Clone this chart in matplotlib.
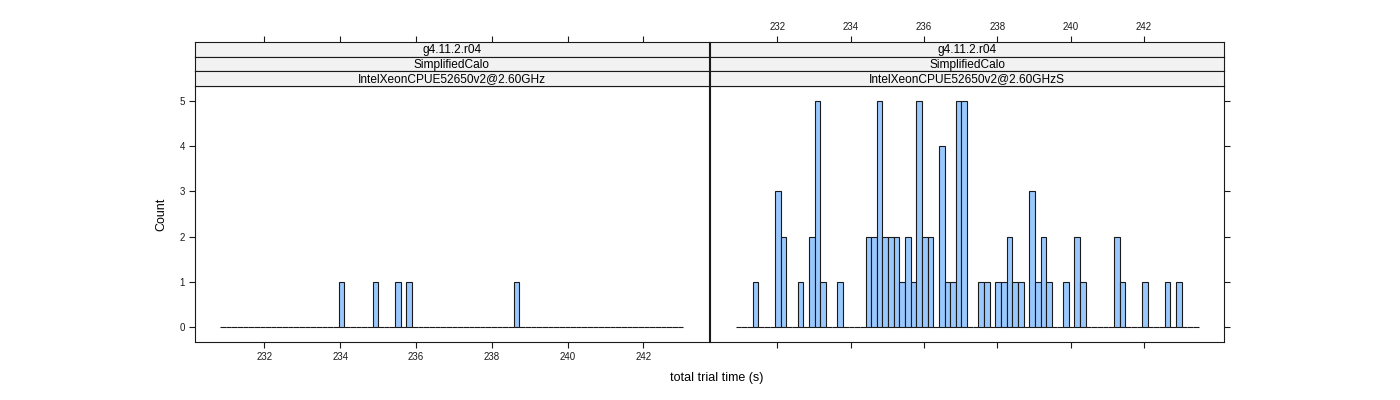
import numpy as np
import matplotlib.pyplot as plt

plt.rcParams['font.family'] = ['Liberation Sans', 'DejaVu Sans']

# histogram breaks and counts (82 bins each)
left_start = 230.83
left_width = 0.149
left_counts = [0, 0, 0, 0, 0, 0, 0, 0, 0, 0,
               0, 0, 0, 0, 0, 0, 0, 0, 0, 0,
               0, 1, 0, 0, 0, 0, 0, 1, 0, 0,
               0, 1, 0, 1, 0, 0, 0, 0, 0, 0,
               0, 0, 0, 0, 0, 0, 0, 0, 0, 0,
               0, 0, 1, 0, 0, 0, 0, 0, 0, 0,
               0, 0, 0, 0, 0, 0, 0, 0, 0, 0,
               0, 0, 0, 0, 0, 0, 0, 0, 0, 0,
               0, 0]

right_start = 230.869
right_width = 0.1539
right_counts = [0, 0, 0, 1, 0, 0, 0, 3, 2, 0,
                0, 1, 0, 2, 5, 1, 0, 0, 1, 0,
                0, 0, 0, 2, 2, 5, 2, 2, 2, 1,
                2, 1, 5, 2, 2, 0, 4, 1, 1, 5,
                5, 0, 0, 1, 1, 0, 1, 1, 2, 1,
                1, 0, 3, 1, 2, 1, 0, 0, 1, 0,
                2, 1, 0, 0, 0, 0, 0, 2, 1, 0,
                0, 0, 1, 0, 0, 0, 1, 0, 1, 0,
                0, 0]

strip_labels = [
    ['g4.11.2.r04', 'SimplifiedCalo', 'IntelXeonCPUE52650v2@2.60GHz'],
    ['g4.11.2.r04', 'SimplifiedCalo', 'IntelXeonCPUE52650v2@2.60GHzS'],
]
x_ticks = [232, 234, 236, 238, 240, 242]
y_ticks = [0, 1, 2, 3, 4, 5]

panels = [
    (left_start, left_width, left_counts, (230.17, 243.73)),
    (right_start, right_width, right_counts, (230.17, 244.18)),
]

W, H = 1400, 400
fig = plt.figure(figsize=(14, 4), dpi=100)

bar_col = '#99C8FF'
edge = '#1a1a1a'
strip_h = 14.67
tick_fs = 7

for i, (start, width, counts, xlim) in enumerate(panels):
    x0 = 195 + i * 515
    ax = fig.add_axes([x0 / W, 58 / H, 514 / W, 256 / H])
    lefts = start + width * np.arange(len(counts))
    ax.bar(lefts, counts, width=width, align='edge', color=bar_col,
           edgecolor=edge, linewidth=0.8)
    ax.set_xlim(*xlim)
    ax.set_ylim(-0.33, 5.33)
    ax.set_xticks(x_ticks)
    ax.set_yticks(y_ticks)
    ax.tick_params(direction='out', length=4.3, width=0.8, labelsize=tick_fs,
                   pad=3, colors='#1a1a1a')
    if i == 0:
        ax.tick_params(axis='y', left=True, right=False, labelleft=True)
        ax.tick_params(axis='x', bottom=True, labelbottom=True)
        ax.set_ylabel('Count', fontsize=9, labelpad=9)
    else:
        ax.tick_params(axis='y', left=False, right=True, labelleft=False,
                       labelright=False)
        ax.tick_params(axis='x', bottom=True, labelbottom=False)
    for s in ax.spines.values():
        s.set_color('#1a1a1a')
        s.set_linewidth(0.8)

    for r, lab in enumerate(strip_labels[i]):
        top = 42 + r * strip_h
        sax = fig.add_axes([x0 / W, 1 - (top + strip_h) / H, 514 / W, strip_h / H])
        sax.set_facecolor('#F2F2F2')
        sax.set_xlim(*xlim)
        sax.set_yticks([])
        sax.text(0.5, 0.45, lab, transform=sax.transAxes, ha='center',
                 va='center', fontsize=8.6)
        for s in sax.spines.values():
            s.set_color('#1a1a1a')
            s.set_linewidth(0.8)
        if r == 0:
            sax.set_xticks(x_ticks)
            sax.xaxis.tick_top()
            sax.tick_params(axis='x', direction='out', length=4.3, width=0.8,
                            labelsize=tick_fs, pad=3, labeltop=(i == 1),
                            colors='#1a1a1a')
        else:
            sax.set_xticks([])

fig.text(717 / W, 1 - 378 / H, 'total trial time (s)', ha='center',
         va='center', fontsize=9)

fig.savefig('out.png')
